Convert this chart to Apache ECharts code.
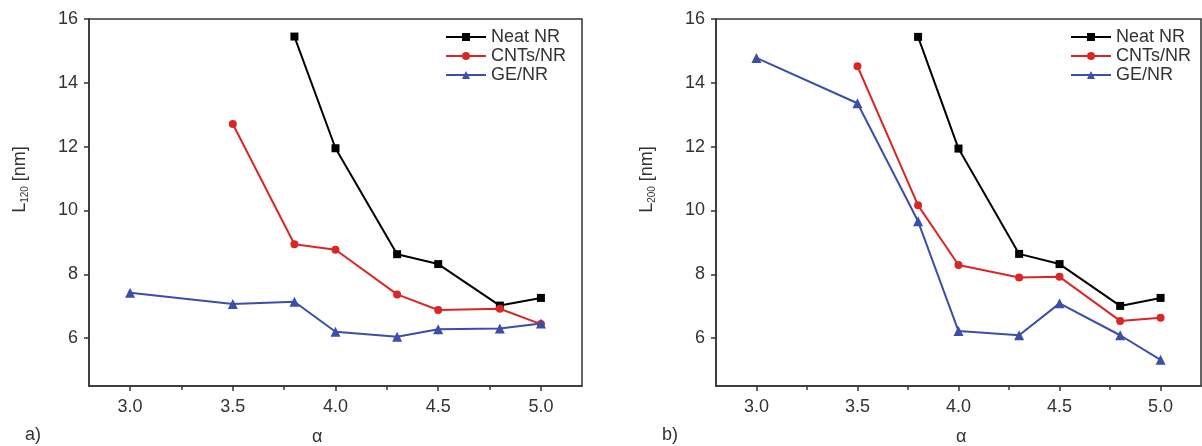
<!DOCTYPE html>
<html>
<head>
<meta charset="utf-8">
<script src="https://cdn.jsdelivr.net/npm/echarts@6/dist/echarts.min.js"></script>
<style>
html,body{margin:0;padding:0;background:#fff;}
#chart{width:1202px;height:446px;}
</style>
</head>
<body>
<div id="chart"></div>
<script>
// ---- data ----
const seriesNames = ['Neat NR', 'CNTs/NR', 'GE/NR'];
const xTicks = [3.0, 3.5, 4.0, 4.5, 5.0];
const xMinorTicks = [3.25, 3.75, 4.25, 4.75];
const yTicks = [6, 8, 10, 12, 14, 16];

const alphaNeat = [3.8, 4.0, 4.3, 4.5, 4.8, 5.0];
const alphaCNT  = [3.5, 3.8, 4.0, 4.3, 4.5, 4.8, 5.0];
const alphaGE   = [3.0, 3.5, 3.8, 4.0, 4.3, 4.5, 4.8, 5.0];

const L120Neat = [15.45, 11.95, 8.63, 8.32, 7.02, 7.26];
const L120CNT  = [12.71, 8.94, 8.77, 7.37, 6.88, 6.92, 6.44];
const L120GE   = [7.42, 7.07, 7.14, 6.20, 6.04, 6.28, 6.30, 6.46];

const L200Neat = [15.44, 11.94, 8.64, 8.32, 7.01, 7.26];
const L200CNT  = [14.52, 10.16, 8.29, 7.90, 7.92, 6.54, 6.64];
const L200GE   = [14.78, 13.36, 9.66, 6.22, 6.09, 7.09, 6.09, 5.32];

// ---- styling ----
const FONT = 'Liberation Sans, Arial, sans-serif';
const AXIS = '#333';
const TXT = '#333';
const colors = ['#000000', '#d92727', '#3b4ea8'];
const symbols = ['rect', 'circle', 'triangle'];
const symSizes = [8, 8, 10];

function pair(xs, ys) { return xs.map((x, i) => [x, ys[i]]); }

function mainX(g) {
  return {
    type: 'value', gridIndex: g, min: 2.8, max: 5.2,
    axisLine: { show: true, lineStyle: { color: AXIS, width: 1.5 } },
    axisTick: { show: true, customValues: xTicks, length: 5, lineStyle: { color: AXIS, width: 1.5 } },
    axisLabel: { show: true, customValues: xTicks, margin: 12, color: TXT, fontSize: 18, fontFamily: FONT,
      formatter: v => Number(v).toFixed(1) },
    splitLine: { show: false }
  };
}
function minorX(g) {
  return {
    type: 'value', gridIndex: g, min: 2.8, max: 5.2, position: 'bottom',
    axisLine: { show: false },
    axisTick: { show: true, customValues: xMinorTicks, length: 4, lineStyle: { color: AXIS, width: 1.5 } },
    axisLabel: { show: false },
    splitLine: { show: false }
  };
}
function mainY(g, sub) {
  return {
    type: 'value', gridIndex: g, min: 4.5, max: 16,
    name: '{m|L}{s|' + sub + '}{m| [nm]}',
    nameLocation: 'middle', nameGap: 59, nameRotate: 90,
    nameTextStyle: {
      color: TXT, fontFamily: FONT, padding: [0, 0, 0, 46],
      rich: {
        m: { fontSize: 18, fontFamily: FONT, color: TXT, lineHeight: 20 },
        s: { fontSize: 10, fontFamily: FONT, color: TXT, lineHeight: 20, verticalAlign: 'bottom', padding: [9, 0, 0, 0] }
      }
    },
    axisLine: { show: true, lineStyle: { color: AXIS, width: 1.5 } },
    axisTick: { show: true, customValues: yTicks, length: 5, lineStyle: { color: AXIS, width: 1.5 } },
    axisLabel: { show: true, customValues: yTicks, margin: 11, color: TXT, fontSize: 18, fontFamily: FONT },
    splitLine: { show: false }
  };
}

function mk(name, idx, xi, yi, data) {
  return {
    name: name, type: 'line', xAxisIndex: xi, yAxisIndex: yi, data: data,
    symbol: symbols[idx], symbolSize: symSizes[idx], showSymbol: true,
    lineStyle: { color: colors[idx], width: 2 },
    itemStyle: { color: colors[idx] },
    animation: false
  };
}

function legend(left) {
  return {
    orient: 'vertical', left: left, top: 23, itemWidth: 40, itemHeight: 10, itemGap: 1,
    data: seriesNames,
    textStyle: { color: TXT, fontSize: 18, fontFamily: FONT, lineHeight: 18 },
    selectedMode: false
  };
}

const chart = echarts.init(document.getElementById('chart'), null, { renderer: 'canvas' });
chart.setOption({
  backgroundColor: '#fff',
  animation: false,
  grid: [
    { left: 89, top: 19, right: 620, bottom: 60, show: true, borderColor: AXIS, borderWidth: 1.5, backgroundColor: 'transparent' },
    { left: 716, top: 19, right: 1, bottom: 60, show: true, borderColor: AXIS, borderWidth: 1.5, backgroundColor: 'transparent' }
  ],
  xAxis: [mainX(0), mainX(1), minorX(0), minorX(1)],
  yAxis: [mainY(0, '120'), mainY(1, '200')],
  legend: [legend(440), legend(1065)],
  series: [
    mk('Neat NR', 0, 0, 0, pair(alphaNeat, L120Neat)),
    mk('CNTs/NR', 1, 0, 0, pair(alphaCNT, L120CNT)),
    mk('GE/NR', 2, 0, 0, pair(alphaGE, L120GE)),
    mk('Neat NR', 0, 1, 1, pair(alphaNeat, L200Neat)),
    mk('CNTs/NR', 1, 1, 1, pair(alphaCNT, L200CNT)),
    mk('GE/NR', 2, 1, 1, pair(alphaGE, L200GE))
  ],
  graphic: [
    { type: 'text', left: 318 - 6, top: 428, style: { text: 'α', fontSize: 18, fontFamily: FONT, fill: TXT } },
    { type: 'text', left: 962 - 6, top: 428, style: { text: 'α', fontSize: 18, fontFamily: FONT, fill: TXT } },
    { type: 'text', left: 25, top: 426, style: { text: 'a)', fontSize: 18, fontFamily: FONT, fill: TXT } },
    { type: 'text', left: 662, top: 426, style: { text: 'b)', fontSize: 18, fontFamily: FONT, fill: TXT } }
  ]
});
</script>
</body>
</html>
